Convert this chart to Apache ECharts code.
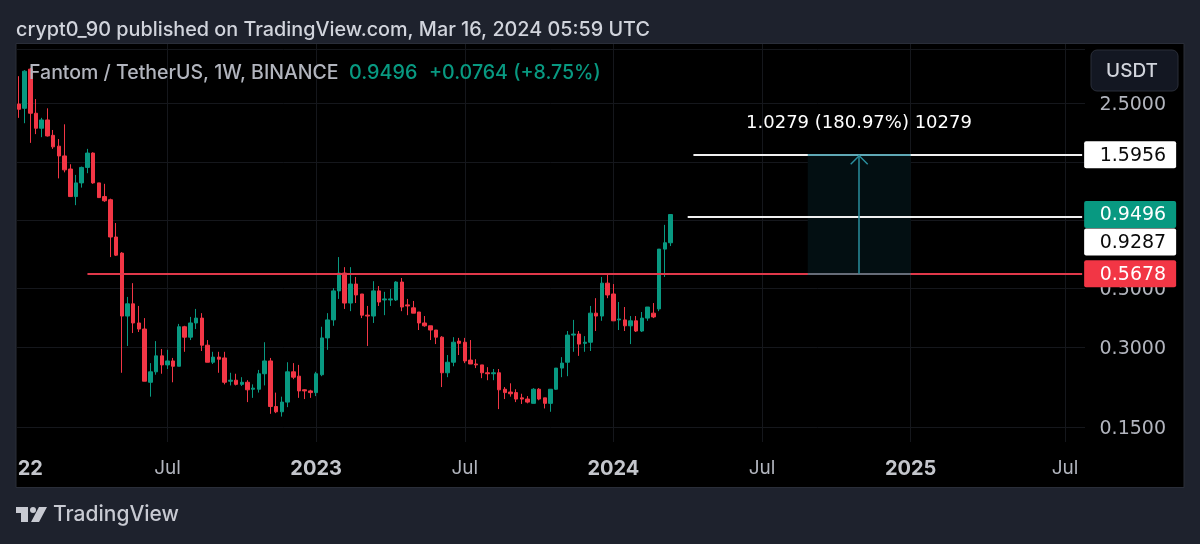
<!DOCTYPE html>
<html>
<head>
<meta charset="utf-8">
<title>Fantom / TetherUS</title>
<script src="https://cdn.jsdelivr.net/npm/echarts@6/dist/echarts.min.js"></script>
<style>
html, body { margin: 0; padding: 0; background: #1e222d; }
#mycharts { width: 1200px; height: 544px; }
</style>
</head>
<body>
<div id="mycharts"></div>
<script>
// weekly candles, [open, close, low, high]
var candles = [
  [2.48,2.37,2.20,3.16],[2.39,3.30,2.10,3.33],[3.36,2.29,1.77,3.39],[2.29,2.01,1.91,2.59],[2.01,2.16,1.86,2.20],
  [2.16,1.88,1.87,2.39],[1.89,1.71,1.68,1.98],[1.72,1.58,1.30,1.83],[1.58,1.40,1.37,2.08],[1.41,1.11,1.11,1.47],
  [1.11,1.25,1.03,1.34],[1.25,1.43,1.20,1.44],[1.43,1.62,1.36,1.68],[1.62,1.25,1.24,1.63],[1.25,1.10,1.10,1.25],
  [1.11,1.07,1.06,1.24],[1.08,.781,.656,1.09],[.781,.667,.662,.882],[.679,.393,.240,.685],[.393,.437,.303,.464],
  [.437,.370,.339,.523],[.370,.351,.342,.429],[.351,.223,.223,.386],[.221,.242,.195,.261],[.242,.278,.236,.316],
  [.278,.257,.238,.295],[.257,.266,.248,.293],[.266,.254,.221,.273],[.254,.358,.254,.367],[.358,.327,.288,.361],
  [.327,.370,.319,.390],[.370,.386,.351,.418],[.386,.305,.290,.403],[.305,.263,.263,.319],[.263,.275,.259,.288],
  [.275,.270,.240,.288],[.273,.221,.217,.288],[.223,.225,.215,.240],[.225,.217,.215,.238],[.217,.221,.214,.231],
  [.221,.207,.186,.225],[.208,.210,.193,.217],[.208,.238,.202,.246],[.238,.266,.215,.313],[.266,.179,.168,.273],
  [.179,.171,.169,.202],[.171,.186,.164,.195],[.186,.242,.178,.263],[.242,.231,.227,.261],[.233,.205,.193,.257],
  [.207,.205,.191,.208],[.205,.202,.193,.207],[.202,.238,.196,.242],[.236,.325,.233,.358],[.325,.380,.293,.403],
  [.380,.489,.361,.501],[.489,.571,.456,.656],[.571,.440,.418,.601],[.440,.519,.410,.601],[.519,.472,.440,.552],
  [.476,.396,.386,.476],[.396,.393,.303,.429],[.393,.489,.370,.532],[.489,.444,.429,.510],[.452,.456,.396,.485],
  [.452,.456,.429,.497],[.452,.528,.448,.532],[.528,.425,.410,.547],[.433,.429,.396,.456],[.422,.403,.403,.448],
  [.407,.370,.348,.407],[.370,.361,.358,.393],[.361,.348,.319,.361],[.348,.327,.308,.348],[.327,.240,.212,.330],
  [.240,.263,.231,.280],[.263,.313,.254,.327],[.316,.310,.280,.325],[.313,.266,.261,.325],[.268,.259,.259,.319],
  [.259,.257,.250,.270],[.257,.240,.229,.257],[.240,.238,.225,.252],[.238,.240,.225,.248],[.240,.207,.175,.248],
  [.208,.202,.191,.212],[.203,.200,.195,.219],[.202,.191,.186,.208],[.193,.191,.183,.200],[.191,.186,.184,.196],
  [.184,.208,.184,.210],[.208,.191,.189,.210],[.193,.184,.176,.193],[.184,.208,.171,.208],[.208,.250,.207,.250],
  [.250,.261,.231,.275],[.263,.333,.233,.345],[.333,.336,.288,.380],[.336,.308,.278,.345],[.310,.313,.288,.330],
  [.313,.403,.290,.429],[.403,.393,.345,.459],[.393,.523,.377,.552],[.523,.472,.459,.567],[.476,.377,.377,.519],
  [.380,.383,.348,.444],[.380,.361,.345,.425],[.361,.377,.308,.393],[.377,.345,.342,.393],[.345,.386,.342,.407],
  [.386,.425,.377,.425],[.403,.390,.386,.440],[.418,.703,.410,.703],[.703,.743,.552,.868],[.743,.9496,.722,.9496]
];

// week slots on the axis, Jan 2022 to mid 2025
var weekCount = 187;
var categories = [];
for (var i = 0; i < weekCount; i++) {
  categories.push('w' + i);
}

var tickWeeks = [2, 26, 52, 78, 104, 130, 156, 183];
var tickLabels = ['22', 'Jul', '2023', 'Jul', '2024', 'Jul', '2025', 'Jul'];
var priceTicks = [4, 2.5, 1.5, 0.9, 0.5, 0.3, 0.15];
// these labels are covered by the button and the price tags in the original
var coveredTicks = [4, 1.5, 0.9];

var supportPrice = 0.5678;
var targetPrice = 1.5956;
var markerPrice = 0.9287;
var lastPrice = 0.9496;

var UP = '#089981';
var DOWN = '#f23645';
var FONT = 'Inter, "Noto Sans", sans-serif';
var NUM_FONT = '"DejaVu Sans", Inter, sans-serif';

function tagLabel(text, bg, fg, offsetY) {
  return {
    show: true,
    position: 'end',
    distance: 2,
    offset: [0, offsetY || 0],
    formatter: '{t|' + text + '}',
    rich: {
      t: {
        width: 82, height: 19, lineHeight: 19, padding: [5, 10, 3, 0],
        align: 'right', backgroundColor: bg, color: fg,
        fontFamily: NUM_FONT, fontSize: 19, borderRadius: 2
      }
    }
  };
}

function hLine(fromWeek, price, color, label, width) {
  return [{
    xAxis: categories[fromWeek], yAxis: price,
    lineStyle: { color: color, width: width || 2, type: 'solid' },
    label: label || { show: false },
    symbol: 'none'
  }, {
    xAxis: categories[weekCount - 1], yAxis: price, symbol: 'none'
  }];
}

var option = {
  animation: false,
  backgroundColor: '#1e222d',
  grid: { left: 16, right: 115, top: 44, bottom: 102, containLabel: false },
  xAxis: {
    type: 'category',
    data: categories,
    boundaryGap: true,
    axisLine: { show: false },
    axisTick: { show: false },
    splitLine: {
      show: true,
      alignWithLabel: true,
      interval: function (idx) { return tickWeeks.indexOf(idx) > 0; },
      lineStyle: { color: '#15171c', width: 1 }
    },
    axisLabel: {
      interval: function (idx) { return tickWeeks.indexOf(idx) >= 0; },
      margin: 17,
      hideOverlap: false,
      formatter: function (value, idx) {
        var text = tickLabels[tickWeeks.indexOf(idx)];
        return text === 'Jul' ? '{m|Jul}' : '{y|' + text + '}';
      },
      rich: {
        m: { color: '#b2b5be', fontFamily: FONT, fontSize: 19 },
        y: { color: '#c4c6cc', fontFamily: FONT, fontSize: 20, fontWeight: 'bold' }
      }
    }
  },
  yAxis: {
    type: 'log',
    position: 'right',
    min: 0.1315,
    max: 4.18,
    axisLine: { show: false },
    axisTick: { show: false, customValues: priceTicks },
    splitLine: { show: true, lineStyle: { color: '#15171c', width: 1 } },
    axisLabel: {
      customValues: priceTicks,
      margin: 81,
      align: 'right',
      formatter: function (v) {
        return coveredTicks.indexOf(Number(v)) >= 0 ? '' : '{p|' + Number(v).toFixed(4) + '}';
      },
      rich: {
        p: { color: '#b2b5be', fontFamily: NUM_FONT, fontSize: 19, padding: [4, 0, 0, 0] }
      }
    }
  },
  series: [{
    type: 'candlestick',
    data: candles,
    barWidth: 4,
    itemStyle: {
      color: UP, color0: DOWN,
      borderColor: UP, borderColor0: DOWN,
      borderWidth: 1
    },
    markArea: {
      silent: true,
      clip: false,
      itemStyle: { color: '#030f12' },
      data: [[
        { xAxis: categories[138], yAxis: targetPrice },
        { xAxis: categories[156], yAxis: supportPrice }
      ]]
    },
    markLine: {
      silent: true,
      clip: false,
      animation: false,
      symbol: 'none',
      data: [
        hLine(12, supportPrice, '#e0384a', tagLabel('0.5678', DOWN, '#ffffff')),
        hLine(118, targetPrice, '#f0f0f0', tagLabel('1.5956', '#ffffff', '#0a0a0a')),
        hLine(117, markerPrice, '#f0f0f0', tagLabel('0.9287', '#ffffff', '#0a0a0a', 25)),
        hLine(114, lastPrice, 'rgba(0,0,0,0)', tagLabel('0.9496', UP, '#ffffff')),
        [{ xAxis: categories[138], yAxis: targetPrice, lineStyle: { color: '#5fa8b5', width: 2, type: 'solid' }, symbol: 'none' },
         { xAxis: categories[156], yAxis: targetPrice, symbol: 'none' }],
        [{ xAxis: categories[138], yAxis: supportPrice, lineStyle: { color: '#666c78', width: 2, type: 'solid' }, symbol: 'none' },
         { xAxis: categories[156], yAxis: supportPrice, symbol: 'none' }],
        [{ xAxis: categories[147], yAxis: supportPrice, lineStyle: { color: '#2a8f9e', width: 1.5, type: 'solid' }, symbol: 'none' },
         { xAxis: categories[147], yAxis: targetPrice, symbol: 'path://M9 -10L9 -10ZM0 9L9 0L18 9L17 10L9 2L1 10Z', symbolSize: [18, 20] }]
      ]
    }
  }],
  graphic: [
    // chart pane
    { type: 'rect', z: -10, shape: { x: 16, y: 43.5, width: 1168, height: 444 }, style: { fill: '#000000', stroke: '#2a2e39', lineWidth: 1 } },
    // headers
    { type: 'text', z: 100, x: 16, y: 30, style: { text: 'crypt0_90 published on TradingView.com, Mar 16, 2024 05:59 UTC', fill: '#d1d4dc', font: '500 19.8px ' + FONT, verticalAlign: 'middle' } },
    { type: 'text', z: 100, x: 29, y: 73, style: { text: 'Fantom / TetherUS, 1W, BINANCE', fill: '#b2b5be', font: '500 19.5px ' + FONT, verticalAlign: 'middle' } },
    { type: 'text', z: 100, x: 349, y: 73, style: { text: '0.9496', fill: UP, font: '500 19.8px ' + FONT, verticalAlign: 'middle' } },
    { type: 'text', z: 100, x: 429, y: 73, style: { text: '+0.0764 (+8.75%)', fill: UP, font: '500 19.6px ' + FONT, verticalAlign: 'middle' } },
    // currency button
    { type: 'rect', z: 100, shape: { x: 1091, y: 50, width: 87, height: 41, r: 6 }, style: { fill: '#131722', stroke: '#2a2e39', lineWidth: 1 } },
    { type: 'text', z: 101, x: 1132, y: 71, style: { text: 'USDT', fill: '#d1d4dc', font: '500 19px ' + FONT, align: 'center', verticalAlign: 'middle' } },
    // projection label
    { type: 'text', z: 100, x: 859, y: 123, style: { text: '1.0279 (180.97%) 10279', fill: '#ffffff', font: '18px ' + NUM_FONT, align: 'center', verticalAlign: 'middle' } },
    // footer logo and name
    { type: 'polygon', z: 100, shape: { points: [[16, 507], [28, 507], [28, 522], [21, 522], [21, 513], [16, 513]] }, style: { fill: '#c8cad2' } },
    { type: 'circle', z: 100, shape: { cx: 33, cy: 510, r: 3 }, style: { fill: '#c8cad2' } },
    { type: 'polygon', z: 100, shape: { points: [[39, 507], [47, 507], [39, 522], [31, 522]] }, style: { fill: '#c8cad2' } },
    { type: 'text', z: 100, x: 53, y: 515, style: { text: 'TradingView', fill: '#c8cad2', font: '500 21px ' + FONT, verticalAlign: 'middle' } }
  ]
};

var myChart = echarts.init(document.getElementById('mycharts'));
myChart.setOption(option);
</script>
</body>
</html>
